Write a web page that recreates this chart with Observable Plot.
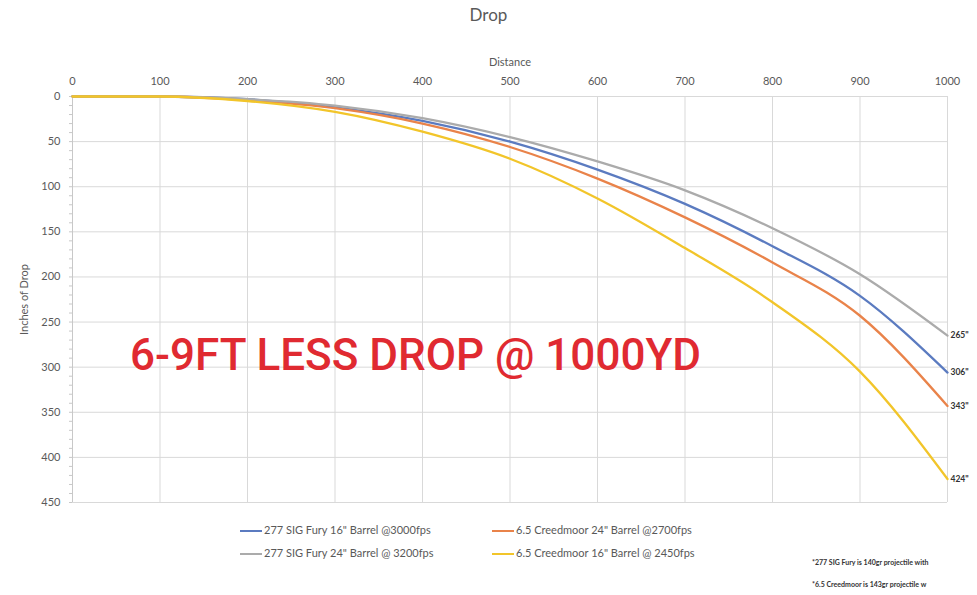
<!DOCTYPE html>
<html>
<head>
<meta charset="utf-8">
<script src="https://cdn.jsdelivr.net/npm/d3@7"></script>
<script src="https://cdn.jsdelivr.net/npm/@observablehq/plot@0.6"></script>
<style>
  html, body { margin: 0; padding: 0; background: #fff; }
  #wrap { position: relative; width: 977px; height: 595px; overflow: hidden; font-family: "Liberation Sans Narrow", Lato, sans-serif; }
  #title { position: absolute; top: 4px; left: 0; width: 977px; text-align: center; font-size: 17px; color: #595959; }
  #chart { position: absolute; top: 40px; left: 0; }
  .legend { position: absolute; font-size: 11px; color: #595959; white-space: nowrap; }
  .legend .sw { display: inline-block; width: 22px; height: 2px; vertical-align: middle; margin-right: 2px; }
  .note { position: absolute; font-size: 7px; color: #333; white-space: nowrap; font-weight: bold; }
</style>
</head>
<body>
<div id="wrap">
  <div id="title"></div>
  <div id="chart"></div>
  <div id="legend"></div>
  <div id="notes"></div>
</div>
<script>
const chartTitle = "Drop";
const xLabel = "Distance";
const yLabel = "Inches of Drop";
const distances = [0, 100, 200, 300, 400, 500, 600, 700, 800, 900, 1000];
const seriesNames = [
  "277 SIG Fury 16\" Barrel @3000fps",
  "6.5 Creedmoor 24\" Barrel @2700fps",
  "277 SIG Fury 24\" Barrel @ 3200fps",
  "6.5 Creedmoor 16\" Barrel @ 2450fps"
];
const seriesColors = ["#5b7bc0", "#e9834a", "#ababab", "#f2c52a"];
const fury16 =  [0, 0, 3, 12, 27, 50, 81, 119, 166, 221, 306];
const cm24 =    [0, 0, 4, 13, 30, 56, 91, 134, 184, 243, 343];
const fury24 =  [0, 0, 3, 10, 24, 45, 72, 104, 146, 197, 265];
const cm16 =    [0, 0, 5, 17, 39, 69, 113, 168, 228, 305, 424];
const seriesValues = [fury16, cm24, fury24, cm16];
const endLabels = ["306\"", "343\"", "265\"", "424\""];
const xTicks = [0, 100, 200, 300, 400, 500, 600, 700, 800, 900, 1000];
const yTicks = [0, 50, 100, 150, 200, 250, 300, 350, 400, 450];
const annotation = { text: "6-9FT LESS DROP @ 1000YD", x: 392, y: 288 };
const notes = ["*277 SIG Fury is 140gr projectile with", "*6.5 Creedmoor is 143gr projectile w"];

const rows = [];
seriesNames.forEach((name, i) => {
  distances.forEach((d, j) => rows.push({ series: name, distance: d, drop: seriesValues[i][j] }));
});
const ends = seriesNames.map((name, i) => ({ series: name, distance: distances[distances.length - 1], drop: seriesValues[i][seriesValues[i].length - 1], label: endLabels[i] }));
const minor = d3.range(0, 451, 10);

document.getElementById("title").textContent = chartTitle;

const plot = Plot.plot({
  width: 977,
  height: 472,
  marginTop: 56,
  marginLeft: 72,
  marginRight: 30,
  marginBottom: 10,
  style: { fontFamily: "'Liberation Sans Narrow', Lato, sans-serif", fontSize: "11px", color: "#595959", background: "transparent" },
  x: { type: "linear", domain: [0, 1000] },
  y: { type: "linear", domain: [0, 450], reverse: true },
  color: { domain: seriesNames, range: seriesColors },
  marks: [
    Plot.gridX(xTicks, { stroke: "#d9d9d9", strokeOpacity: 1 }),
    Plot.gridY(yTicks, { stroke: "#d9d9d9", strokeOpacity: 1 }),
    Plot.ruleX([0], { stroke: "#c8c8c8" }),
    Plot.axisY({ anchor: "left", ticks: minor, tickSize: 3, tickFormat: () => "", label: null, stroke: "#c8c8c8" }),
    Plot.axisX({ anchor: "top", ticks: xTicks, tickSize: 0, tickPadding: 12, tickFormat: d => String(d), label: xLabel, labelAnchor: "center", labelArrow: "none", labelOffset: 38, fontSize: 11, fill: "#595959" }),
    Plot.axisY({ anchor: "left", ticks: yTicks, tickSize: 0, tickPadding: 12, label: yLabel, labelAnchor: "center", labelArrow: "none", labelOffset: 52, fontSize: 11, fill: "#595959" }),
    Plot.text([annotation], { x: "x", y: "y", text: "text", fill: "#e02a31", fontSize: 44, fontFamily: "Roboto, sans-serif", fontWeight: 500, textAnchor: "middle" }),
    Plot.line(rows, { x: "distance", y: "drop", z: "series", stroke: "series", strokeWidth: 2.3, curve: "monotone-x" }),
    Plot.text(ends, { x: "distance", y: "drop", text: "label", textAnchor: "start", dx: 3, fontSize: 8.5, fill: "#333", fontWeight: "bold" })
  ]
});
document.getElementById("chart").appendChild(plot);

// legend
const leg = document.getElementById("legend");
const legPos = [[240, 523], [492, 523], [240, 546], [492, 546]];
seriesNames.forEach((name, i) => {
  const div = document.createElement("div");
  div.className = "legend";
  div.style.left = legPos[i][0] + "px";
  div.style.top = legPos[i][1] + "px";
  div.innerHTML = `<span class="sw" style="background:${seriesColors[i]}"></span>`;
  div.appendChild(document.createTextNode(name));
  leg.appendChild(div);
});
const nt = document.getElementById("notes");
notes.forEach((t, i) => {
  const div = document.createElement("div");
  div.className = "note";
  div.style.left = "812px";
  div.style.top = (558 + i * 22) + "px";
  div.textContent = t;
  nt.appendChild(div);
});
</script>
</body>
</html>
